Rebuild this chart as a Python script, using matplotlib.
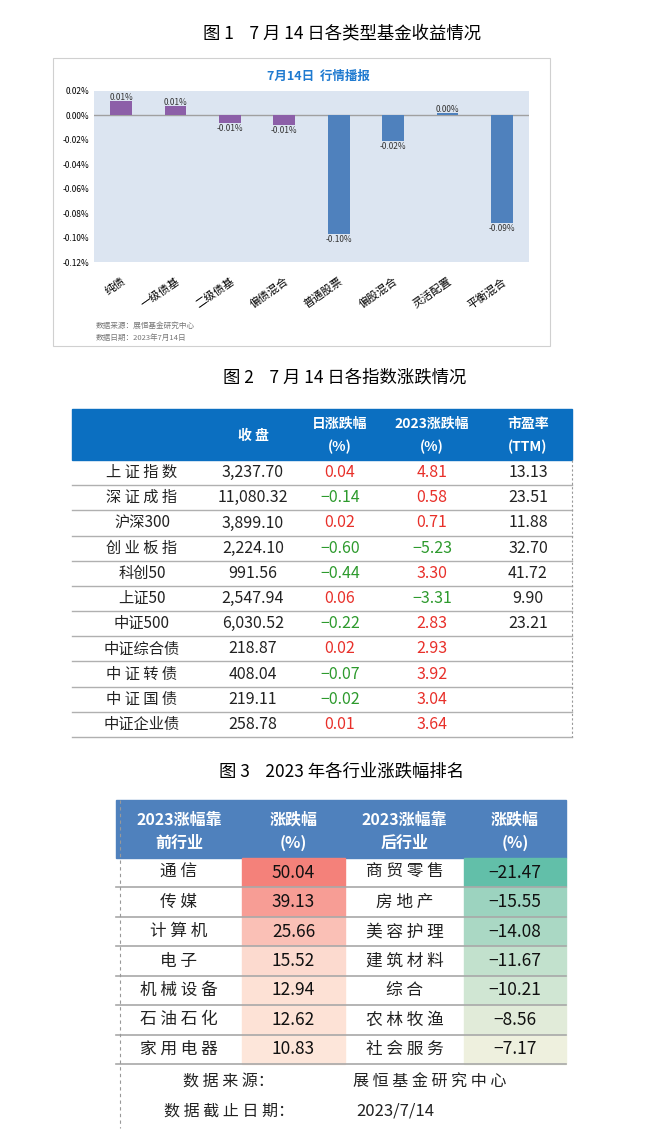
import matplotlib
matplotlib.use("Agg")
import matplotlib.pyplot as plt
from matplotlib.patches import Rectangle
from matplotlib.colors import LinearSegmentedColormap
import numpy as np

plt.rcParams['font.family'] = ['Noto Sans CJK SC', 'DejaVu Sans']

# ---- data ----
fund_types = ['纯债', '一级债基', '二级债基', '偏债混合', '普通股票', '偏股混合', '灵活配置', '平衡混合']
fund_returns = [0.012, 0.008, -0.006, -0.008, -0.097, -0.021, 0.002, -0.088]
fund_labels = ['0.01%', '0.01%', '-0.01%', '-0.01%', '-0.10%', '-0.02%', '0.00%', '-0.09%']
yticks = [0.02, 0.0, -0.02, -0.04, -0.06, -0.08, -0.10, -0.12]

idx_names = ['上证指数', '深证成指', '沪深300', '创业板指', '科创50', '上证50', '中证500',
             '中证综合债', '中证转债', '中证国债', '中证企业债']
idx_close = ['3,237.70', '11,080.32', '3,899.10', '2,224.10', '991.56', '2,547.94', '6,030.52',
             '218.87', '408.04', '219.11', '258.78']
idx_day = [0.04, -0.14, 0.02, -0.60, -0.44, 0.06, -0.22, 0.02, -0.07, -0.02, 0.01]
idx_ytd = [4.81, 0.58, 0.71, -5.23, 3.30, -3.31, 2.83, 2.93, 3.92, 3.04, 3.64]
idx_pe = ['13.13', '23.51', '11.88', '32.70', '41.72', '9.90', '23.21', '', '', '', '']

top_ind = ['通信', '传媒', '计算机', '电子', '机械设备', '石油石化', '家用电器']
top_chg = [50.04, 39.13, 25.66, 15.52, 12.94, 12.62, 10.83]
bot_ind = ['商贸零售', '房地产', '美容护理', '建筑材料', '综合', '农林牧渔', '社会服务']
bot_chg = [-21.47, -15.55, -14.08, -11.67, -10.21, -8.56, -7.17]

W, H = 648, 1132
fig = plt.figure(figsize=(W/100, H/100), dpi=100)
bg = fig.add_axes([0, 0, 1, 1])
bg.set_xlim(0, W); bg.set_ylim(H, 0); bg.axis('off')

def fmt(v):
    s = f"{abs(v):.2f}"
    return ('−' + s) if v < 0 else s

def sp(s):
    return ' '.join(s) if len(s) <= 4 else s

# ---- figure 1 ----
bg.text(342, 33, '图 1    7 月 14 日各类型基金收益情况', ha='center', va='center', fontsize=12.5)
bg.add_patch(Rectangle((53, 58), 497, 288, fill=False, ec='#d0d0d0', lw=0.8))
bg.text(318, 76, '7月14日  行情播报', ha='center', va='center', fontsize=9, color='#1f7ad0', fontweight='bold')
ax = fig.add_axes([94/W, 1-262/H, (529-94)/W, (262-91)/H])
ax.set_facecolor('#dce5f1')
x = np.arange(len(fund_types))
cols = ['#8c5fa8']*4 + ['#4f81bd']*4
ax.bar(x, fund_returns, width=0.4, color=cols, zorder=3)
ax.axhline(0, color='#a0a0a0', lw=1, zorder=2)
for xi, v, l in zip(x, fund_returns, fund_labels):
    off = 0.0025 if v >= 0 else -0.0045
    ax.text(xi, v + off, l, ha='center', va='center', fontsize=6, color='#333')
ax.set_ylim(-0.12, 0.02)
ax.set_xlim(-0.5, 7.5)
ax.set_yticks(yticks)
ax.set_yticklabels([f"{t:.2f}%" for t in yticks], fontsize=6)
ax.set_xticks(x)
ax.set_xticklabels(fund_types, rotation=35, ha='right', fontsize=8, rotation_mode='anchor')
ax.tick_params(length=0, axis='x', pad=10)
ax.tick_params(length=0, axis='y')
for s in ax.spines.values():
    s.set_visible(False)
bg.text(96, 326, '数据来源：展恒基金研究中心', fontsize=5.5, color='#777', va='center')
bg.text(96, 338, '数据日期：2023年7月14日', fontsize=5.5, color='#777', va='center')

# ---- figure 2 ----
bg.text(345, 378, '图 2    7 月 14 日各指数涨跌情况', ha='center', va='center', fontsize=12.5)
tx0, tx1 = 72, 572
bg.add_patch(Rectangle((tx0, 409), tx1-tx0, 51, color='#0b6fc1'))
cx = [142, 253, 340, 432, 528]
hdr = [('', ''), ('收 盘', ''), ('日涨跌幅', '(%)'), ('2023涨跌幅', '(%)'), ('市盈率', '(TTM)')]
for c, (a, b) in zip(cx, hdr):
    if b:
        bg.text(c, 424, a, ha='center', va='center', color='white', fontsize=10, fontweight='bold')
        bg.text(c, 447, b, ha='center', va='center', color='white', fontsize=10, fontweight='bold')
    elif a:
        bg.text(c, 436, a, ha='center', va='center', color='white', fontsize=10, fontweight='bold')
rh = (737-460)/11
red, green = '#e8302a', '#2d9a2d'
for i in range(11):
    yc = 460 + rh*(i+0.5)
    bg.plot([tx0, tx1], [460+rh*(i+1)]*2, color='#b0b0b0', lw=1)
    bg.text(cx[0], yc, sp(idx_names[i]) if not any(ch.isdigit() for ch in idx_names[i]) else idx_names[i],
            ha='center', va='center', fontsize=11, color='#222')
    bg.text(cx[1], yc, idx_close[i], ha='center', va='center', fontsize=11.5, color='#222')
    bg.text(cx[2], yc, fmt(idx_day[i]), ha='center', va='center', fontsize=11.5, color=red if idx_day[i] >= 0 else green)
    bg.text(cx[3], yc, fmt(idx_ytd[i]), ha='center', va='center', fontsize=11.5, color=red if idx_ytd[i] >= 0 else green)
    bg.text(cx[4], yc, idx_pe[i], ha='center', va='center', fontsize=11.5, color='#222')
bg.plot([tx1, tx1], [460, 737], color='#999', lw=0.8, ls=(0, (2, 2)))

# ---- figure 3 ----
bg.text(342, 772, '图 3    2023 年各行业涨跌幅排名', ha='center', va='center', fontsize=12.5)
ex = [116, 242, 345, 464, 566]
bg.add_patch(Rectangle((116, 800), 450, 58, color='#4f81bd'))
h3 = [('2023涨幅靠', '前行业'), ('涨跌幅', '(%)'), ('2023涨幅靠', '后行业'), ('涨跌幅', '(%)')]
for j, (a, b) in enumerate(h3):
    c = (ex[j]+ex[j+1])/2
    bg.text(c, 820, a, ha='center', va='center', color='white', fontsize=11.5, fontweight='bold')
    bg.text(c, 843, b, ha='center', va='center', color='white', fontsize=11.5, fontweight='bold')
reds = LinearSegmentedColormap.from_list('r', ['#fde6da', '#f4817a'])
greens = LinearSegmentedColormap.from_list('g', ['#eef0de', '#62bfa9'])
rh3 = (1064-858)/7
tmin, tmax = min(top_chg), max(top_chg)
bmin, bmax = min(bot_chg), max(bot_chg)
for i in range(7):
    y0 = 858 + rh3*i
    yc = y0 + rh3/2
    bg.add_patch(Rectangle((ex[1], y0), ex[2]-ex[1], rh3, color=reds((top_chg[i]-tmin)/(tmax-tmin))))
    bg.add_patch(Rectangle((ex[3], y0), ex[4]-ex[3], rh3, color=greens((bmax-bot_chg[i])/(bmax-bmin))))
    bg.plot([116, 566], [y0+rh3]*2, color='#a8a8a8', lw=1.2)
    bg.text((ex[0]+ex[1])/2, yc, sp(top_ind[i]), ha='center', va='center', fontsize=12, color='#222')
    bg.text((ex[1]+ex[2])/2, yc, f"{top_chg[i]:.2f}", ha='center', va='center', fontsize=12.5, color='#111')
    bg.text((ex[2]+ex[3])/2, yc, sp(bot_ind[i]), ha='center', va='center', fontsize=12, color='#222')
    bg.text((ex[3]+ex[4])/2, yc, fmt(bot_chg[i]), ha='center', va='center', fontsize=12.5, color='#111')
bg.plot([120, 120], [800, 1128], color='#999', lw=0.8, ls=(0, (3, 3)))
bg.text(228, 1082, '数 据 来 源：', ha='center', va='center', fontsize=11.5, color='#222')
bg.text(430, 1082, '展 恒 基 金 研 究 中 心', ha='center', va='center', fontsize=11.5, color='#222')
bg.text(229, 1111, '数 据 截 止 日 期：', ha='center', va='center', fontsize=11.5, color='#222')
bg.text(395, 1111, '2023/7/14', ha='center', va='center', fontsize=12, color='#222')

fig.savefig('out.png', dpi=100)
